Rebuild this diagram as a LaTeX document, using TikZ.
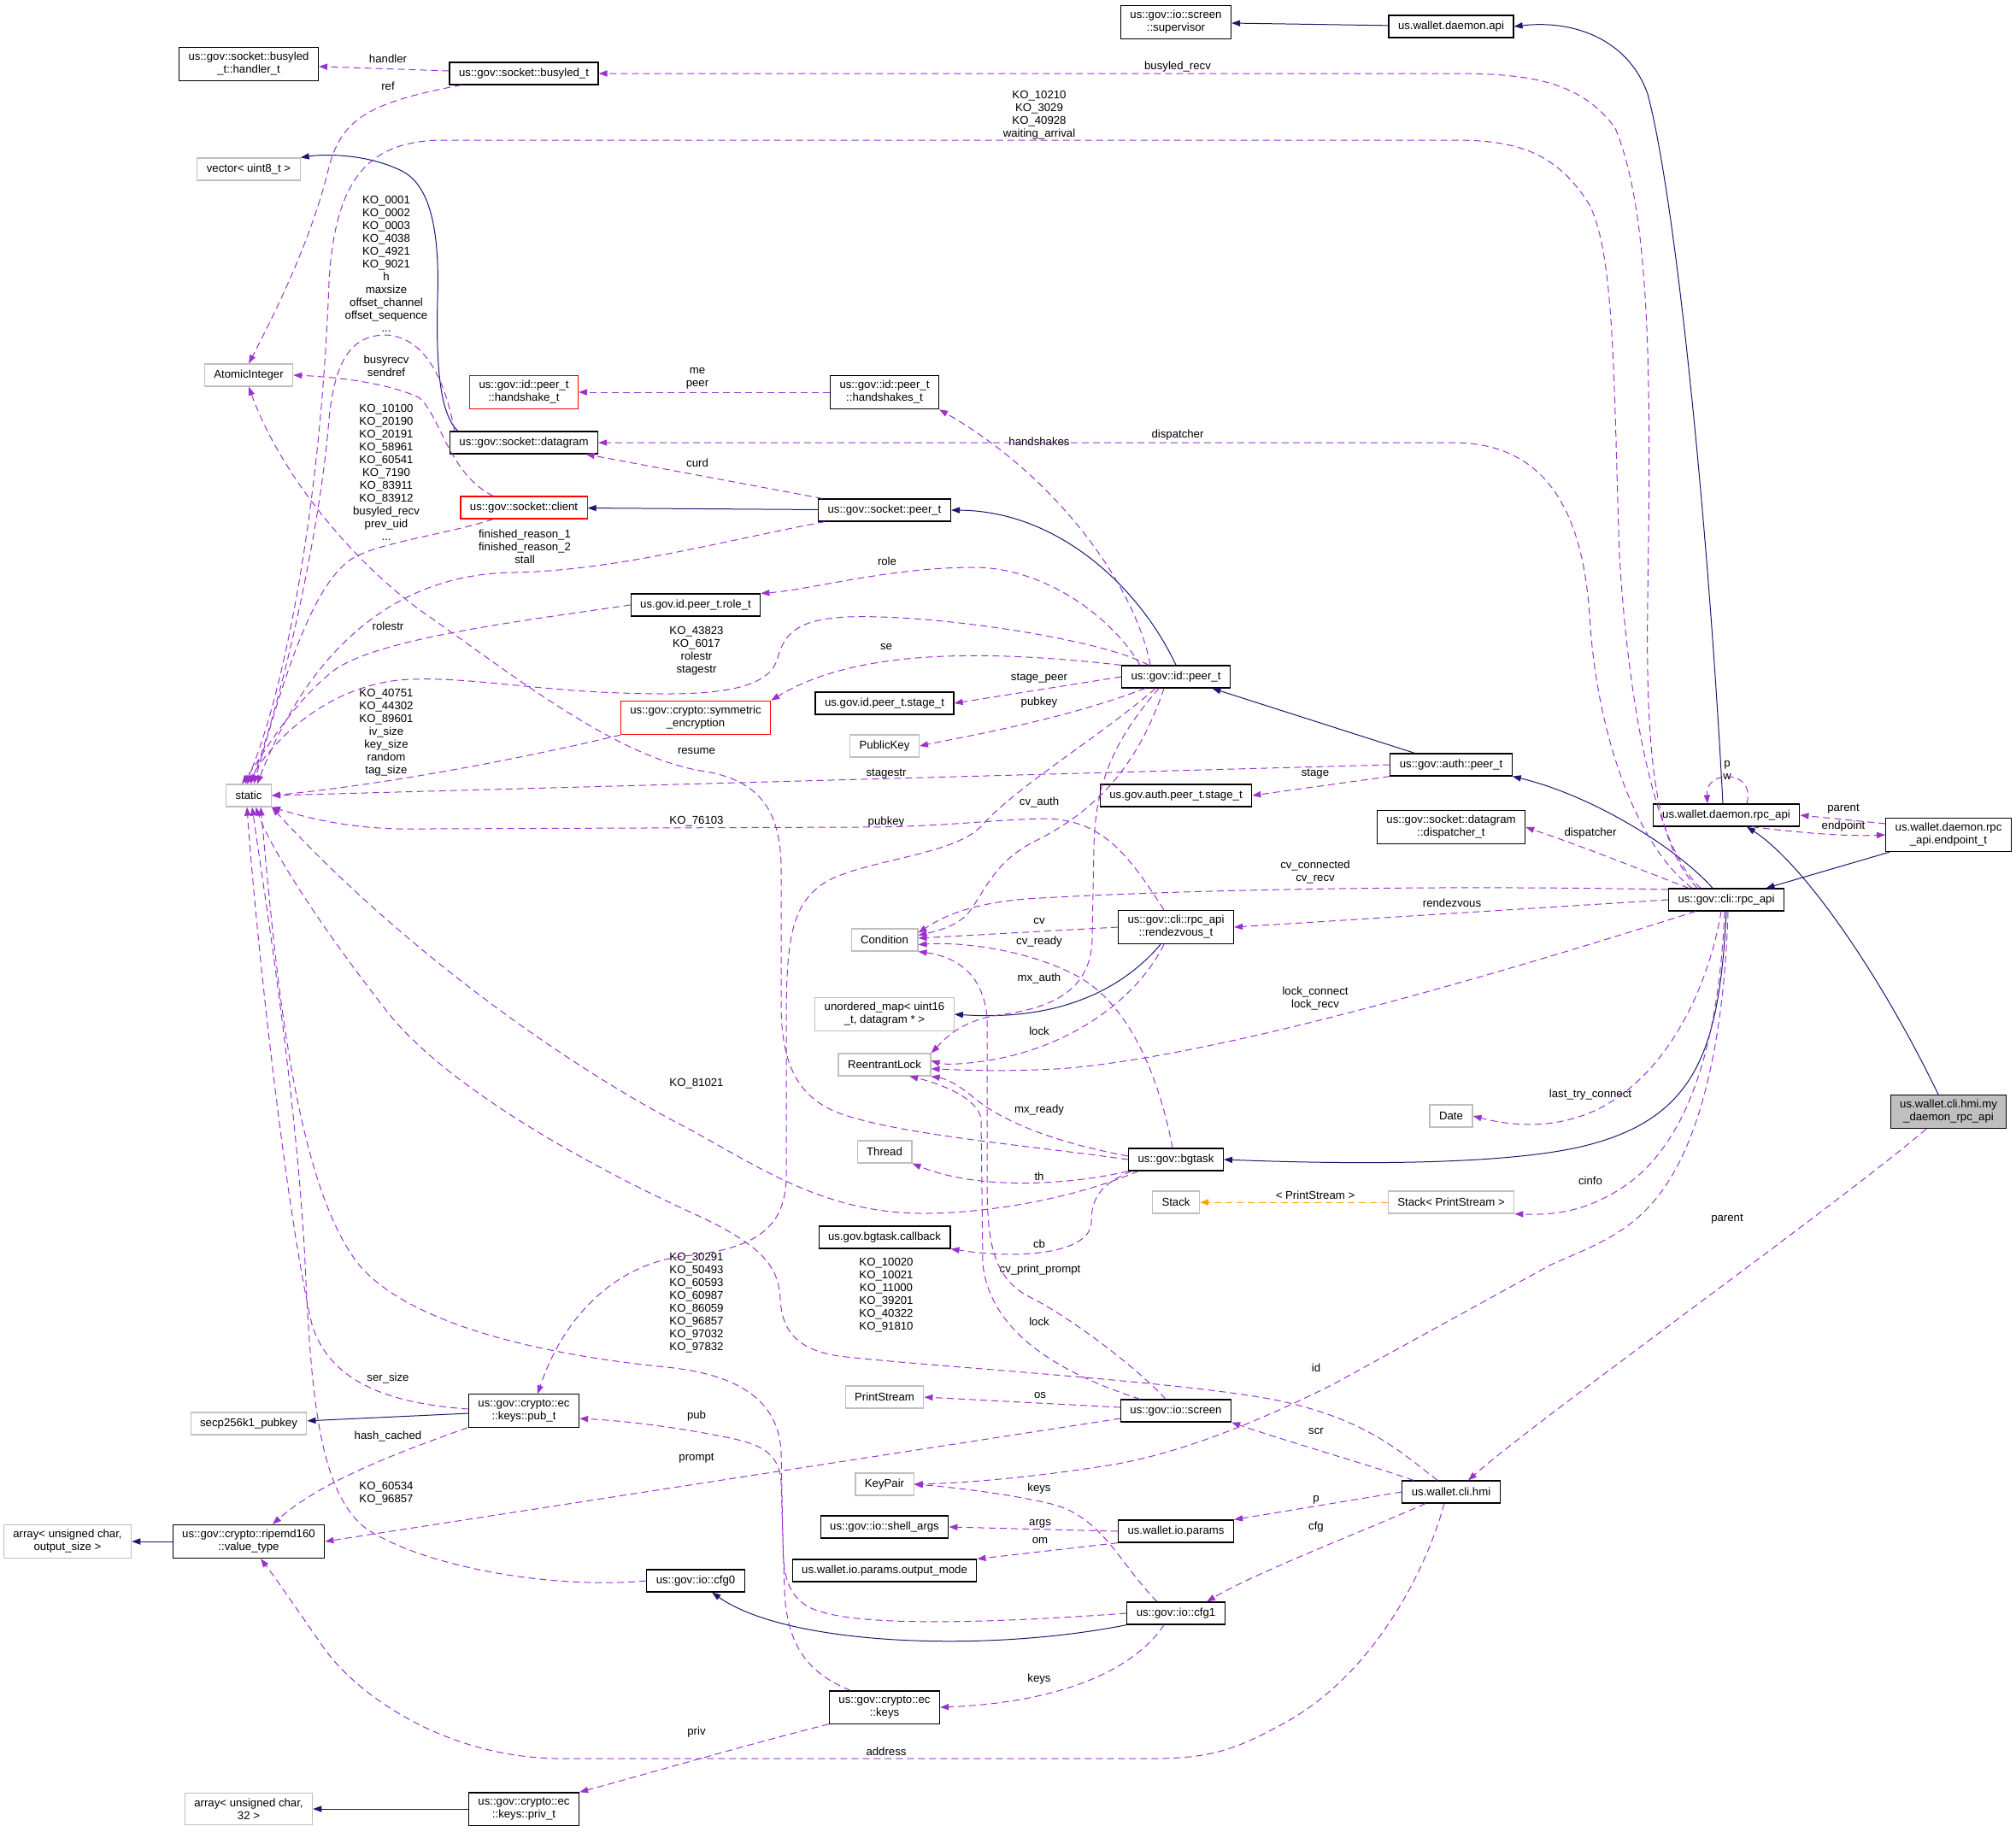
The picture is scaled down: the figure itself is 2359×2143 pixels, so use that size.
\documentclass[tikz,border=0pt]{standalone}
\usepackage{fontspec}
\setmainfont{Liberation Sans}
\usetikzlibrary{arrows.meta}
\definecolor{inhcol}{HTML}{191970}
\definecolor{depcol}{HTML}{9A32CD}
\definecolor{tplcol}{HTML}{FFA500}
\definecolor{extcol}{HTML}{BFBFBF}
\begin{document}
\begin{tikzpicture}[x=0.5pt, y=-0.5pt,
    font=\fontsize{6.6}{7.5}\selectfont,
    cls/.style={rectangle, draw=black, line width=0.6pt, align=center, inner xsep=5.5pt, inner ysep=3pt, minimum height=13pt},
    ext/.style={cls, draw=extcol},
    undoc/.style={cls, draw=red},
    focus/.style={cls, fill=extcol},
    inh/.style={draw=inhcol, line width=0.5pt, -{Triangle[length=5pt,width=3.6pt]}},
    dep/.style={draw=depcol, line width=0.5pt, dash pattern=on 4pt off 2.5pt, -{Triangle[length=5pt,width=3.6pt]}},
    tpl/.style={draw=tplcol, line width=0.5pt, dash pattern=on 4pt off 2.5pt, -{Triangle[length=5pt,width=3.6pt]}},
    lbl/.style={align=center, inner sep=0pt}
  ]
  \useasboundingbox (0,0) rectangle (2359,2143);

  % Classes
  \node[cls] (handlerT) at (291,75) {us::gov::socket::busyled\\\_t::handler\_t};
  \node[cls] (busyled) at (613,86) {us::gov::socket::busyled\_t};
  \node[cls] (supervisor) at (1376,26) {us::gov::io::screen\\::supervisor};
  \node[cls] (daemonApi) at (1698,31) {us.wallet.daemon.api};
  \node[ext] (vecU8) at (291,198) {vector< uint8\_t >};
  \node[ext] (atomicInt) at (291,439) {AtomicInteger};
  \node[undoc] (handshake) at (613,459) {us::gov::id::peer\_t\\::handshake\_t};
  \node[cls] (handshakes) at (1035,459) {us::gov::id::peer\_t\\::handshakes\_t};
  \node[cls] (datagram) at (613,518) {us::gov::socket::datagram};
  \node[undoc] (client) at (613,594) {us::gov::socket::client};
  \node[cls] (sockPeer) at (1035,597) {us::gov::socket::peer\_t};
  \node[cls] (roleT) at (814,708) {us.gov.id.peer\_t.role\_t};
  \node[cls] (idPeer) at (1376,792) {us::gov::id::peer\_t};
  \node[cls] (stageT) at (1035,823) {us.gov.id.peer\_t.stage\_t};
  \node[undoc] (symEnc) at (814,840) {us::gov::crypto::symmetric\\\_encryption};
  \node[ext] (pubKey) at (1035,873) {PublicKey};
  \node[cls] (authPeer) at (1698,895) {us::gov::auth::peer\_t};
  \node[cls] (authStage) at (1376,931) {us.gov.auth.peer\_t.stage\_t};
  \node[ext] (stat) at (291,931) {static};
  \node[cls] (rpcApi) at (2020,954) {us.wallet.daemon.rpc\_api};
  \node[cls] (dispatcherT) at (1698,968) {us::gov::socket::datagram\\::dispatcher\_t};
  \node[cls] (endpointT) at (2280,977) {us.wallet.daemon.rpc\\\_api.endpoint\_t};
  \node[cls] (cliRpc) at (2020,1053) {us::gov::cli::rpc\_api};
  \node[cls] (rendezvous) at (1376,1085) {us::gov::cli::rpc\_api\\::rendezvous\_t};
  \node[ext] (condition) at (1035,1100) {Condition};
  \node[ext] (umap) at (1035,1187) {unordered\_map< uint16\\\_t, datagram * >};
  \node[ext] (rlock) at (1035,1246) {ReentrantLock};
  \node[focus] (myDaemon) at (2280,1301) {us.wallet.cli.hmi.my\\\_daemon\_rpc\_api};
  \node[ext] (date) at (1698,1306) {Date};
  \node[ext] (thread) at (1035,1348) {Thread};
  \node[cls] (bgtask) at (1376,1357) {us::gov::bgtask};
  \node[ext] (stack) at (1376,1407) {Stack};
  \node[ext] (stackPS) at (1698,1407) {Stack< PrintStream >};
  \node[cls] (callback) at (1035,1448) {us.gov.bgtask.callback};
  \node[ext] (printStream) at (1035,1635) {PrintStream};
  \node[cls] (screen) at (1376,1651) {us::gov::io::screen};
  \node[cls] (pubT) at (613,1651) {us::gov::crypto::ec\\::keys::pub\_t};
  \node[ext] (secp) at (291,1666) {secp256k1\_pubkey};
  \node[ext] (keyPair) at (1035,1737) {KeyPair};
  \node[cls] (hmi) at (1698,1746) {us.wallet.cli.hmi};
  \node[cls] (shellArgs) at (1035,1787) {us::gov::io::shell\_args};
  \node[cls] (params) at (1376,1792) {us.wallet.io.params};
  \node[ext] (arrOut) at (79,1804) {array< unsigned char,\\output\_size >};
  \node[cls] (ripemd) at (291,1804) {us::gov::crypto::ripemd160\\::value\_type};
  \node[cls] (outMode) at (1035,1838) {us.wallet.io.params.output\_mode};
  \node[cls] (cfg0) at (814,1850) {us::gov::io::cfg0};
  \node[cls] (cfg1) at (1376,1888) {us::gov::io::cfg1};
  \node[cls] (keys) at (1035,1998) {us::gov::crypto::ec\\::keys};
  \node[ext] (arr32) at (291,2117) {array< unsigned char,\\32 >};
  \node[cls] (privT) at (613,2117) {us::gov::crypto::ec\\::keys::priv\_t};

  % Member labels
  \node[lbl] (lHandler) at (454,69) {handler};
  \node[lbl] (lRef) at (454,101) {ref};
  \node[lbl] (lBusyRecv) at (1378,78) {busyled\_recv};
  \node[lbl] (lKoA) at (1216,135) {KO\_10210\\KO\_3029\\KO\_40928\\waiting\_arrival};
  \node[lbl] (lKoB) at (452,309) {KO\_0001\\KO\_0002\\KO\_0003\\KO\_4038\\KO\_4921\\KO\_9021\\h\\maxsize\\offset\_channel\\offset\_sequence\\...};
  \node[lbl] (lBusy) at (452,428) {busyrecv\\sendref};
  \node[lbl] (lMe) at (816,443) {me\\peer};
  \node[lbl] (lDispA) at (1378,509) {dispatcher};
  \node[lbl] (lHands) at (1216,517) {handshakes};
  \node[lbl] (lCurd) at (816,542) {curd};
  \node[lbl] (lKoC) at (452,553) {KO\_10100\\KO\_20190\\KO\_20191\\KO\_58961\\KO\_60541\\KO\_7190\\KO\_83911\\KO\_83912\\busyled\_recv\\prev\_uid\\...};
  \node[lbl] (lFin) at (614,640) {finished\_reason\_1\\finished\_reason\_2\\stall};
  \node[lbl] (lRole) at (1038,657) {role};
  \node[lbl] (lRolestr) at (454,733) {rolestr};
  \node[lbl] (lKoD) at (815,762) {KO\_43823\\KO\_6017\\rolestr\\stagestr};
  \node[lbl] (lSe) at (1037,757) {se};
  \node[lbl] (lStagePeer) at (1216,794) {stage\_peer};
  \node[lbl] (lPubkeyA) at (1216,822) {pubkey};
  \node[lbl] (lKoE) at (452,857) {KO\_40751\\KO\_44302\\KO\_89601\\iv\_size\\key\_size\\random\\tag\_size};
  \node[lbl] (lResume) at (815,879) {resume};
  \node[lbl] (lPW) at (2021,901) {p\\w};
  \node[lbl] (lStagestr) at (1037,906) {stagestr};
  \node[lbl] (lStage) at (1539,906) {stage};
  \node[lbl] (lCvAuth) at (1216,939) {cv\_auth};
  \node[lbl] (lParentA) at (2157,947) {parent};
  \node[lbl] (lKoF) at (815,961) {KO\_76103};
  \node[lbl] (lPubkeyB) at (1037,962) {pubkey};
  \node[lbl] (lEndpoint) at (2157,967) {endpoint};
  \node[lbl] (lDispB) at (1861,975) {dispatcher};
  \node[lbl] (lCvConn) at (1539,1021) {cv\_connected\\cv\_recv};
  \node[lbl] (lRendez) at (1699,1057) {rendezvous};
  \node[lbl] (lCv) at (1216,1078) {cv};
  \node[lbl] (lCvReady) at (1216,1102) {cv\_ready};
  \node[lbl] (lMxAuth) at (1216,1145) {mx\_auth};
  \node[lbl] (lLockConn) at (1539,1169) {lock\_connect\\lock\_recv};
  \node[lbl] (lLockA) at (1216,1207) {lock};
  \node[lbl] (lKoG) at (815,1268) {KO\_81021};
  \node[lbl] (lLastTry) at (1861,1281) {last\_try\_connect};
  \node[lbl] (lMxReady) at (1216,1299) {mx\_ready};
  \node[lbl] (lTh) at (1216,1377) {th};
  \node[lbl] (lCinfo) at (1861,1382) {cinfo};
  \node[lbl] (lPS) at (1539,1399) {< PrintStream >};
  \node[lbl] (lParentB) at (2021,1427) {parent};
  \node[lbl] (lCb) at (1216,1456) {cb};
  \node[lbl] (lCvPrint) at (1217,1486) {cv\_print\_prompt};
  \node[lbl] (lKoH) at (815,1525) {KO\_30291\\KO\_50493\\KO\_60593\\KO\_60987\\KO\_86059\\KO\_96857\\KO\_97032\\KO\_97832};
  \node[lbl] (lKoI) at (1037,1516) {KO\_10020\\KO\_10021\\KO\_11000\\KO\_39201\\KO\_40322\\KO\_91810};
  \node[lbl] (lLockB) at (1216,1547) {lock};
  \node[lbl] (lId) at (1540,1601) {id};
  \node[lbl] (lSerSize) at (454,1613) {ser\_size};
  \node[lbl] (lOs) at (1217,1633) {os};
  \node[lbl] (lPub) at (815,1657) {pub};
  \node[lbl] (lScr) at (1540,1675) {scr};
  \node[lbl] (lHash) at (454,1681) {hash\_cached};
  \node[lbl] (lPrompt) at (815,1707) {prompt};
  \node[lbl] (lKeysA) at (1216,1742) {keys};
  \node[lbl] (lKoJ) at (452,1748) {KO\_60534\\KO\_96857};
  \node[lbl] (lP) at (1540,1755) {p};
  \node[lbl] (lArgs) at (1217,1783) {args};
  \node[lbl] (lCfg) at (1540,1787) {cfg};
  \node[lbl] (lOm) at (1217,1803) {om};
  \node[lbl] (lKeysB) at (1216,1965) {keys};
  \node[lbl] (lPriv) at (815,2027) {priv};
  \node[lbl] (lAddr) at (1037,2050) {address};

  % Inheritance
  \draw[inh] (datagram.170) .. controls (515,485) and (510,430) .. (512,350) .. controls (515,260) and (500,215) .. (470,200) .. controls (430,180) and (380,180) .. (vecU8.north east);
  \draw[inh] (sockPeer) -- (client);
  \draw[inh] (idPeer.north) .. controls (1335,690) and (1240,598) .. (sockPeer.east);
  \draw[inh] (authPeer) -- (idPeer);
  \draw[inh] ([xshift=-8pt]cliRpc.north) .. controls (1960,990) and (1860,930) .. (authPeer.south east);
  \draw[inh] (cliRpc.south) .. controls (2012,1230) and (1985,1310) .. (1850,1342) .. controls (1750,1365) and (1560,1362) .. (bgtask.east);
  \draw[inh] ([xshift=-9pt]rendezvous.south) .. controls (1320,1150) and (1250,1196) .. (umap.east);
  \draw[inh] (endpointT) -- (cliRpc);
  \draw[inh] ([xshift=-6pt]myDaemon.north) .. controls (2200,1140) and (2110,1010) .. ([xshift=12pt]rpcApi.south);
  \draw[inh] ([xshift=-2pt]rpcApi.north) .. controls (1998,600) and (1960,230) .. (1928,110) .. controls (1905,45) and (1840,23) .. (daemonApi.east);
  \draw[inh] (daemonApi) -- (supervisor);
  \draw[inh] (pubT) -- (secp);
  \draw[inh] (ripemd) -- (arrOut);
  \draw[inh] (privT) -- (arr32);
  \draw[inh] (cfg1.south west) .. controls (1150,1935) and (920,1925) .. (cfg0);

  % Template instance
  \draw[tpl] (stackPS) -- (stack);

  % Members
  \draw[dep] (busyled) -- (handlerT);
  \draw[dep] (busyled) .. controls (430,120) and (400,140) .. (385,195) .. controls (365,280) and (320,370) .. (atomicInt.north);
  \draw[dep] ([xshift=-17pt]cliRpc.north) .. controls (1940,990) and (1925,900) .. (1928,700) .. controls (1932,450) and (1932,250) .. (1890,150) .. controls (1850,95) and (1790,86) .. (1700,86) -- (busyled.east);
  \draw[dep] ([xshift=-15pt]cliRpc.north) .. controls (1935,990) and (1905,820) .. (1895,650) .. controls (1888,450) and (1890,300) .. (1860,240) .. controls (1820,175) and (1770,164) .. (1700,164) -- (520,164) .. controls (430,164) and (392,210) .. (385,330) .. controls (375,600) and (330,820) .. ([xshift=-2pt]stat.north);
  \draw[dep] ([xshift=3pt]datagram.north west) .. controls (522,450) and (500,395) .. (452,392) .. controls (412,392) and (392,420) .. (385,490) .. controls (375,620) and (330,820) .. ([xshift=1pt]stat.north);
  \draw[dep] ([xshift=-18pt]client.north) .. controls (525,555) and (515,485) .. (490,465) .. controls (450,447) and (390,441) .. (atomicInt.east);
  \draw[dep] ([xshift=-18pt]client.south) .. controls (525,625) and (440,635) .. (410,655) .. controls (360,690) and (325,820) .. ([xshift=3pt]stat.north);
  \draw[dep] (sockPeer) -- (datagram);
  \draw[dep] ([xshift=-35pt]sockPeer.south) .. controls (850,632) and (720,668) .. (600,670) .. controls (440,672) and (350,790) .. ([xshift=5pt]stat.north);
  \draw[dep] (handshakes) -- (handshake);
  \draw[dep] ([xshift=-15pt]idPeer.north) .. controls (1330,690) and (1240,560) .. (handshakes.south east);
  \draw[dep] ([xshift=-20pt]cliRpc.north) .. controls (1915,990) and (1868,860) .. (1860,720) .. controls (1852,600) and (1810,518) .. (1700,518) -- (datagram.east);
  \draw[dep] ([xshift=-21pt]idPeer.north) .. controls (1300,720) and (1220,664) .. (1140,664) .. controls (1040,664) and (950,690) .. (roleT.north east);
  \draw[dep] (roleT.west) .. controls (600,728) and (440,748) .. (390,785) .. controls (340,825) and (310,880) .. ([xshift=-4pt]stat.north);
  \draw[dep] ([xshift=-16pt]idPeer.north) .. controls (1290,748) and (1090,718) .. (990,722) .. controls (935,725) and (918,740) .. (910,770) .. controls (902,800) and (860,812) .. (780,812) .. controls (640,812) and (560,792) .. (480,795) .. controls (400,798) and (330,850) .. ([xshift=-1pt]stat.north);
  \draw[dep] (idPeer.north west) .. controls (1150,760) and (1000,760) .. (symEnc.north east);
  \draw[dep] (idPeer.west) -- (stageT.east);
  \draw[dep] ([xshift=-18pt]idPeer.south) .. controls (1250,840) and (1150,858) .. (pubKey.east);
  \draw[dep] ([xshift=-12pt]idPeer.south) .. controls (1290,860) and (1190,920) .. (1150,965) .. controls (1120,1000) and (1020,1005) .. (970,1030) .. controls (925,1055) and (920,1100) .. (920,1200) -- (920,1380) .. controls (918,1440) and (880,1462) .. (800,1470) .. controls (720,1480) and (660,1540) .. ([xshift=8pt]pubT.north);
  \draw[dep] (authPeer.west) -- (stat.east);
  \draw[dep] (authPeer.south west) -- (authStage.east);
  \draw[dep] (symEnc.south west) .. controls (600,890) and (450,918) .. (stat.east);
  \draw[dep] ([xshift=-7pt]rendezvous.north) .. controls (1320,1000) and (1290,958) .. (1220,958) .. controls (1150,960) and (1100,968) .. (1000,968) -- (500,970) .. controls (420,972) and (370,960) .. (stat.south east);
  \draw[dep] ([xshift=-22pt]cliRpc.north) .. controls (1900,1010) and (1850,990) .. (dispatcherT.east);
  \draw[dep] ([xshift=12pt]rpcApi.north) .. controls (2055,900) and (1995,900) .. ([xshift=-11pt]rpcApi.north);
  \draw[dep] (endpointT.170) -- (rpcApi.east);
  \draw[dep] ([xshift=15pt]rpcApi.south) .. controls (2110,975) and (2160,979) .. (endpointT.west);
  \draw[dep] (cliRpc.170) .. controls (1700,1036) and (1400,1040) .. (1200,1052) .. controls (1130,1058) and (1100,1075) .. (condition.12);
  \draw[dep] (cliRpc.west) -- (rendezvous.east);
  \draw[dep] ([xshift=-18pt]cliRpc.south) .. controls (1800,1125) and (1450,1232) .. (1250,1250) .. controls (1180,1255) and (1120,1252) .. (rlock.-5);
  \draw[dep] ([xshift=-3pt]cliRpc.south) .. controls (2000,1150) and (1955,1255) .. (1870,1298) .. controls (1820,1322) and (1770,1318) .. (date.east);
  \draw[dep] ([xshift=-1pt]cliRpc.south) .. controls (2012,1200) and (1985,1320) .. (1912,1380) .. controls (1860,1420) and (1815,1422) .. (stackPS.south east);
  \draw[dep] ([xshift=1pt]cliRpc.south) .. controls (2018,1200) and (1995,1330) .. (1940,1400) .. controls (1905,1445) and (1860,1460) .. (1815,1480) -- (1560,1620) .. controls (1480,1660) and (1380,1703) .. (1290,1716) .. controls (1200,1730) and (1120,1736) .. (keyPair.east);
  \draw[dep] ([xshift=-8pt]hmi.north) .. controls (1640,1700) and (1600,1662) .. (1500,1640) .. controls (1400,1618) and (1100,1600) .. (990,1588) .. controls (935,1582) and (915,1560) .. (913,1520) .. controls (911,1480) and (890,1455) .. (800,1415) .. controls (660,1350) and (510,1260) .. (450,1180) .. controls (380,1090) and (320,1000) .. ([xshift=4pt]stat.south);
  \draw[dep] ([xshift=-22pt]bgtask.south) .. controls (1250,1405) and (1150,1420) .. (1080,1420) .. controls (960,1420) and (880,1360) .. (800,1318) .. controls (650,1240) and (460,1100) .. (stat.south east);
  \draw[dep] (bgtask.west) .. controls (1200,1340) and (1050,1328) .. (980,1302) .. controls (930,1282) and (915,1240) .. (914,1180) -- (914,1010) .. controls (912,950) and (890,912) .. (820,902) .. controls (720,885) and (600,790) .. (500,720) .. controls (420,665) and (330,560) .. (atomicInt.south);
  \draw[dep] (rendezvous.west) -- (condition.3);
  \draw[dep] ([xshift=-2pt]bgtask.north) .. controls (1360,1280) and (1330,1180) .. (1260,1142) .. controls (1200,1110) and (1120,1102) .. (condition.-8);
  \draw[dep] ([xshift=-7pt]rendezvous.south) .. controls (1330,1170) and (1250,1228) .. (1150,1242) .. controls (1120,1246) and (1105,1246) .. (rlock.5);
  \draw[dep] ([xshift=-7pt]idPeer.south) .. controls (1330,900) and (1280,950) .. (1210,985) .. controls (1160,1010) and (1150,1050) .. (1130,1072) .. controls (1115,1085) and (1095,1090) .. (condition.8);
  \draw[dep] ([xshift=-10pt]idPeer.south) .. controls (1300,870) and (1282,920) .. (1280,990) -- (1278,1100) .. controls (1276,1160) and (1230,1180) .. (1168,1188) .. controls (1120,1195) and (1100,1222) .. (rlock.north east);
  \draw[dep] ([yshift=2pt]bgtask.west) .. controls (1250,1340) and (1180,1318) .. (1140,1285) .. controls (1120,1268) and (1105,1262) .. (rlock.south east);
  \draw[dep] (bgtask.south west) .. controls (1260,1385) and (1150,1395) .. (thread.south east);
  \draw[dep] ([xshift=-26pt]bgtask.south) .. controls (1290,1385) and (1277,1400) .. (1277,1430) .. controls (1277,1465) and (1200,1475) .. (callback.south east);
  \draw[dep] ([xshift=-6pt]screen.north) .. controls (1330,1600) and (1250,1540) .. (1205,1518) .. controls (1160,1495) and (1155,1450) .. (1155,1380) -- (1155,1190) .. controls (1150,1140) and (1120,1120) .. (condition.south east);
  \draw[dep] ([xshift=-21pt]screen.north) .. controls (1250,1610) and (1160,1565) .. (1150,1480) -- (1148,1310) .. controls (1145,1285) and (1100,1268) .. (rlock.-25);
  \draw[dep] ([yshift=2pt]screen.west) -- (printStream.east);
  \draw[dep] ([yshift=-4.5pt]screen.west) -- (ripemd.east);
  \draw[dep] ([xshift=-22pt]hmi.north) .. controls (1620,1720) and (1500,1685) .. (screen.south east);
  \draw[dep] (hmi.west) -- (params.north east);
  \draw[dep] ([xshift=-15pt]hmi.south) .. controls (1600,1790) and (1470,1840) .. ([xshift=18pt]cfg1.north);
  \draw[dep] ([xshift=-13pt]myDaemon.south) .. controls (2150,1410) and (1800,1660) .. ([xshift=10pt]hmi.north);
  \draw[dep] ([xshift=-33pt]pubT.south) .. controls (480,1695) and (380,1730) .. ([xshift=14pt]ripemd.north);
  \draw[dep] ([xshift=-20pt]keys.north) .. controls (950,1960) and (920,1930) .. (918,1860) -- (914,1735) .. controls (912,1700) and (890,1690) .. (850,1682) .. controls (780,1668) and (720,1662) .. (pubT.-8);
  \draw[dep] ([xshift=-7pt]cfg1.south) .. controls (1330,1950) and (1250,1992) .. (keys.east);
  \draw[dep] ([xshift=-11pt]cfg1.north) .. controls (1310,1830) and (1290,1775) .. (1230,1760) .. controls (1180,1748) and (1110,1740) .. (keyPair.east);
  \draw[dep] (params.west) -- (shellArgs.east);
  \draw[dep] (params.south west) -- (outMode.north east);
  \draw[dep] (cfg1.west) .. controls (1150,1900) and (990,1905) .. (945,1880) .. controls (920,1865) and (916,1840) .. (916,1800) -- (914,1700) .. controls (912,1650) and (880,1610) .. (780,1600) .. controls (600,1582) and (470,1540) .. (420,1480) .. controls (340,1380) and (320,1100) .. ([xshift=7pt]stat.south);
  \draw[dep] (cfg0.west) .. controls (650,1860) and (500,1835) .. (430,1790) .. controls (375,1750) and (365,1640) .. (358,1500) .. controls (350,1300) and (310,1050) .. ([xshift=2pt]stat.south);
  \draw[dep] ([yshift=1pt]pubT.west) .. controls (450,1642) and (385,1615) .. (365,1550) .. controls (335,1420) and (300,1100) .. ([xshift=-1pt]stat.south);
  \draw[dep] ([xshift=-4pt]hmi.south) .. controls (1665,1850) and (1600,1965) .. (1500,2018) .. controls (1450,2045) and (1420,2058) .. (1350,2058) -- (650,2058) .. controls (520,2055) and (420,1985) .. (380,1930) .. controls (345,1880) and (325,1850) .. ([xshift=7pt]ripemd.south);
  \draw[dep] (keys.south west) .. controls (880,2040) and (750,2078) .. (privT.north east);
\end{tikzpicture}
\end{document}
